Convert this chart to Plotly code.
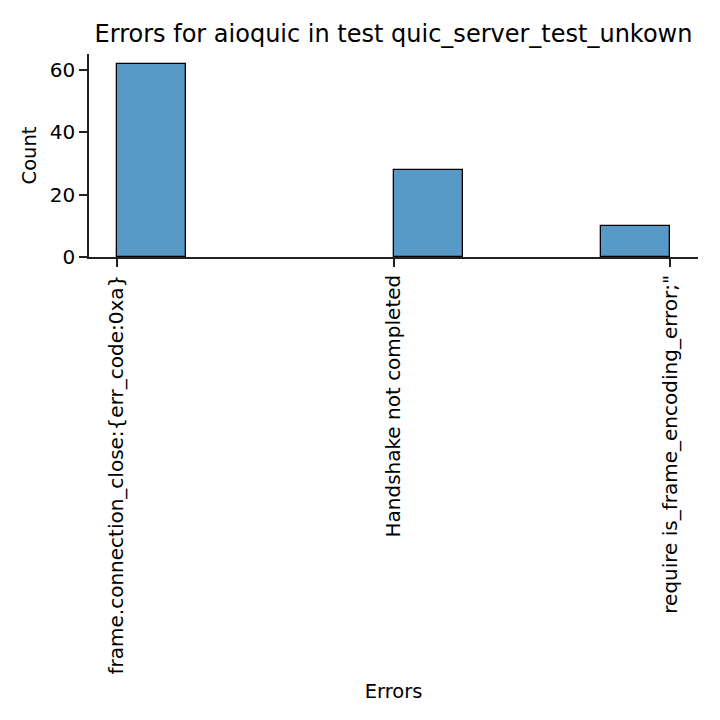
import numpy as np
import plotly.graph_objects as go

categories = ["frame.connection_close:{err_code:0xa}", "Handshake not completed", "require is_frame_encoding_error;\""]
counts = [62, 28, 10]
title = "Errors for aioquic in test quic_server_test_unkown"

# reproduce seaborn's numeric histogram over category codes
codes = np.repeat(np.arange(len(categories)), counts)
hist, edges = np.histogram(codes, bins=8, range=(0, len(categories) - 1))
mask = hist > 0
bin_w = edges[1] - edges[0]

FONT = "DejaVu Sans"
fig = go.Figure()
fig.add_trace(go.Bar(
    x=edges[:-1][mask], y=hist[mask], width=bin_w, offset=0,
    marker=dict(color="rgba(31,119,180,0.75)", line=dict(color="black", width=1.3)),
))
fig.update_layout(
    width=720, height=720, autosize=False,
    margin=dict(l=89, r=22, t=54, b=463),
    paper_bgcolor="white", plot_bgcolor="white",
    showlegend=False, bargap=0,
    font=dict(family=FONT, size=20, color="black"),
    title=dict(text=title, x=0.5, xref="paper", xanchor="center",
               y=1 - 34 / 720, yref="container", yanchor="middle",
               font=dict(family=FONT, size=24, color="black")),
)
fig.update_xaxes(
    range=[-0.1, 2.1], tickmode="array", tickvals=list(range(len(categories))), ticktext=categories,
    tickangle=-90, ticks="outside", ticklen=8, tickwidth=1.5, tickcolor="#222",
    tickfont=dict(size=20),
    showline=True, linecolor="#222", linewidth=1.5, showgrid=False, zeroline=False,
    title=dict(text="Errors", standoff=11, font=dict(size=19.5)), automargin=False,
)
fig.update_yaxes(
    range=[0, 65.1], tickvals=[0, 20, 40, 60], ticks="outside", ticklen=8, tickwidth=1.5, tickcolor="#222",
    tickfont=dict(size=20),
    showline=True, linecolor="#222", linewidth=1.5, showgrid=False, zeroline=False,
    title=dict(text="Count", standoff=8, font=dict(size=19.5)), automargin=False,
)
fig.write_html("out.html")
